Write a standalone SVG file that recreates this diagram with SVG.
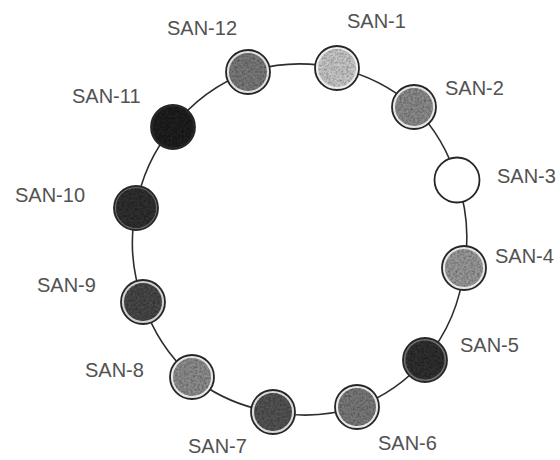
<svg xmlns="http://www.w3.org/2000/svg" width="560" height="460" viewBox="0 0 560 460">
  <style>
    .ring { fill: none; stroke: #2e2e2e; stroke-width: 1.6; }
    .rim { stroke: #262626; stroke-width: 1.8; }
    .core { filter: url(#mottle); }
    .label { font-family: "Liberation Sans", Arial, sans-serif; font-size: 20px; fill: #525252; }
  </style>
  <defs>
    <!-- speckled texture for the node faces -->
    <filter id="mottle" x="-10%" y="-10%" width="120%" height="120%">
      <feTurbulence type="fractalNoise" baseFrequency="0.45" numOctaves="2" seed="7" result="noise"/>
      <feColorMatrix in="noise" type="matrix" values="0 0 0 0 0  0 0 0 0 0  0 0 0 0 0  0 0 0 -1.1 0.75" result="dots"/>
      <feComposite in="dots" in2="SourceGraphic" operator="in" result="speck"/>
      <feMerge>
        <feMergeNode in="SourceGraphic"/>
        <feMergeNode in="speck"/>
      </feMerge>
    </filter>
  </defs>
  <rect width="560" height="460" fill="#ffffff"/>

  <!-- ring links between neighbouring SANs -->
  <g id="connectors">
    <path class="ring" d="M337,68 A172,172 0 0 1 414,107"/>
    <path class="ring" d="M414,107 A172,172 0 0 1 457,180"/>
    <path class="ring" d="M457,180 A172,172 0 0 1 464,268"/>
    <path class="ring" d="M464,268 A172,172 0 0 1 425,360"/>
    <path class="ring" d="M425,360 A172,172 0 0 1 357,407"/>
    <path class="ring" d="M357,407 A172,172 0 0 1 273,412"/>
    <path class="ring" d="M273,412 A172,172 0 0 1 192,377"/>
    <path class="ring" d="M192,377 A172,172 0 0 1 143,302"/>
    <path class="ring" d="M143,302 A172,172 0 0 1 136,208"/>
    <path class="ring" d="M136,208 A172,172 0 0 1 173,127"/>
    <path class="ring" d="M173,127 A172,172 0 0 1 248,72"/>
    <path class="ring" d="M248,72 A172,172 0 0 1 337,68"/>
  </g>

  <g id="san-1">
    <circle class="rim" cx="337" cy="68" r="22" style="fill:#ececec"/>
    <circle class="core" cx="337" cy="68" r="19" fill="#c9c9c9"/>
    <text class="label" x="347" y="28">SAN-1</text>
  </g>
  <g id="san-2">
    <circle class="rim" cx="414" cy="107" r="22" style="fill:#e6e6e6"/>
    <circle class="core" cx="414" cy="107" r="19" fill="#8c8c8c"/>
    <text class="label" x="445" y="95">SAN-2</text>
  </g>
  <g id="san-3">
    <circle class="rim" cx="457" cy="180" r="22.5" style="fill:#ffffff"/>
    <text class="label" x="497" y="183">SAN-3</text>
  </g>
  <g id="san-4">
    <circle class="rim" cx="464" cy="268" r="22" style="fill:#e6e6e6"/>
    <circle class="core" cx="464" cy="268" r="19" fill="#9a9a9a"/>
    <text class="label" x="495" y="263">SAN-4</text>
  </g>
  <g id="san-5">
    <circle class="rim" cx="425" cy="360" r="22" style="fill:#707070"/>
    <circle class="core" cx="425" cy="360" r="19.5" fill="#333333"/>
    <text class="label" x="460" y="352">SAN-5</text>
  </g>
  <g id="san-6">
    <circle class="rim" cx="357" cy="407" r="22" style="fill:#e6e6e6"/>
    <circle class="core" cx="357" cy="407" r="19" fill="#7a7a7a"/>
    <text class="label" x="378" y="450">SAN-6</text>
  </g>
  <g id="san-7">
    <circle class="rim" cx="273" cy="412" r="22" style="fill:#d8d8d8"/>
    <circle class="core" cx="273" cy="412" r="19" fill="#555555"/>
    <text class="label" x="188" y="453">SAN-7</text>
  </g>
  <g id="san-8">
    <circle class="rim" cx="192" cy="377" r="22" style="fill:#e6e6e6"/>
    <circle class="core" cx="192" cy="377" r="19" fill="#8e8e8e"/>
    <text class="label" x="85" y="377">SAN-8</text>
  </g>
  <g id="san-9">
    <circle class="rim" cx="143" cy="302" r="22" style="fill:#cfcfcf"/>
    <circle class="core" cx="143" cy="302" r="19" fill="#4a4a4a"/>
    <text class="label" x="37" y="292">SAN-9</text>
  </g>
  <g id="san-10">
    <circle class="rim" cx="136" cy="208" r="22" style="fill:#6a6a6a"/>
    <circle class="core" cx="136" cy="208" r="20" fill="#333333"/>
    <text class="label" x="15" y="202">SAN-10</text>
  </g>
  <g id="san-11">
    <circle class="rim" cx="173" cy="127" r="22" style="fill:#262626"/>
    <circle class="core" cx="173" cy="127" r="20" fill="#242424"/>
    <text class="label" x="72" y="103">SAN-11</text>
  </g>
  <g id="san-12">
    <circle class="rim" cx="248" cy="72" r="22" style="fill:#e0e0e0"/>
    <circle class="core" cx="248" cy="72" r="19" fill="#7a7a7a"/>
    <text class="label" x="167" y="35">SAN-12</text>
  </g>
</svg>
